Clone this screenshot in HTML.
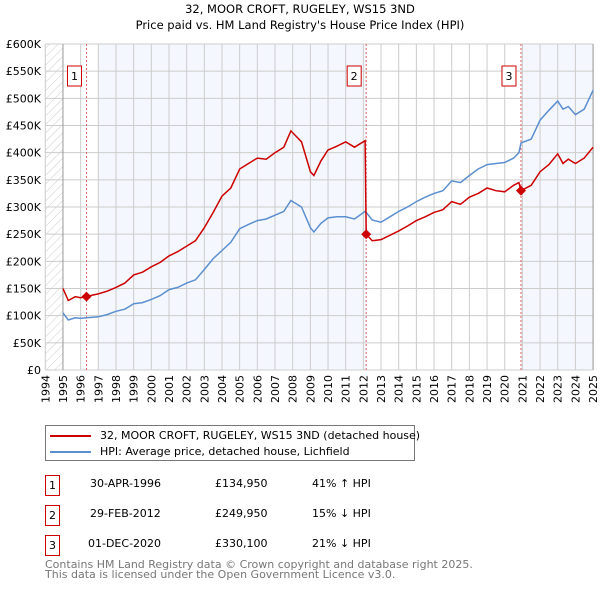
<!DOCTYPE html>
<html><head><meta charset="utf-8"><style>
body{margin:0;background:#fff;font-family:"Liberation Sans","DejaVu Sans",sans-serif;}
#wrap{position:relative;width:600px;height:590px;overflow:hidden;}
svg text{font-family:"DejaVu Sans","Liberation Sans",sans-serif;}
.tb div{white-space:nowrap;}
</style></head><body><div id="wrap">
<svg id="chart" width="600" height="590"></svg>
</div>
<script>
const dates=[1995.0,1995.3,1995.7,1996.0,1996.33,1996.7,1997.0,1997.5,1998.0,1998.5,1999.0,1999.5,2000.0,2000.5,2001.0,2001.5,2002.0,2002.5,2003.0,2003.5,2004.0,2004.5,2005.0,2005.5,2006.0,2006.5,2007.0,2007.5,2007.9,2008.5,2009.0,2009.2,2009.6,2010.0,2010.5,2011.0,2011.5,2012.1,2012.16,2012.5,2013.0,2013.5,2014.0,2014.5,2015.0,2015.5,2016.0,2016.5,2017.0,2017.5,2018.0,2018.5,2019.0,2019.5,2020.0,2020.5,2020.8,2020.92,2021.5,2022.0,2022.5,2023.0,2023.3,2023.6,2024.0,2024.5,2025.0];
const hpi=[105,92,96,95,96,97,98,102,108,112,122,124,130,137,148,152,160,166,185,205,220,235,260,268,275,278,285,292,312,300,262,254,270,280,282,282,278,292,290,276,272,282,292,300,310,318,325,330,348,345,358,370,378,380,382,390,400,418,425,460,478,495,480,485,470,480,515];
const paid=[150,128,135,133,135,138,140,145,152,160,175,180,190,198,210,218,228,238,262,290,320,335,370,380,390,388,400,410,440,420,365,358,385,405,412,420,410,422,250,238,240,248,256,265,275,282,290,295,310,305,318,325,335,330,328,340,345,330,340,365,378,398,380,388,380,390,410];
const yTicks=[0,50,100,150,200,250,300,350,400,450,500,550,600];
const years=[];for(let y=1994;y<=2025;y++)years.push(y);
const sales=[[1996.33,134.95,'1'],[2012.16,249.95,'2'],[2020.92,330.1,'3']];
const X0=45.3,PX=17.67,Y0=370,PY=0.5433;
const xs=d=>X0+(d-1994)*PX, ys=v=>Y0-v*PY;
const NS='http://www.w3.org/2000/svg';const svg=document.getElementById('chart');
function el(t,a,p){const e=document.createElementNS(NS,t);for(const k in a)e.setAttribute(k,a[k]);(p||svg).appendChild(e);return e;}
function tx(s,a){const e=el('text',a);e.textContent=s;return e;}
let t=tx('32, MOOR CROFT, RUGELEY, WS15 3ND',{x:300,y:13,'text-anchor':'middle','font-size':11.5,fill:'#000'});

t=tx("Price paid vs. HM Land Registry's House Price Index (HPI)",{x:300,y:29,'text-anchor':'middle','font-size':11.5,fill:'#000'});

const defs=el('defs',{});const pat=el('pattern',{id:'hatch',width:6,height:6,patternUnits:'userSpaceOnUse',patternTransform:'rotate(45)'},defs);
el('line',{x1:0,y1:0,x2:0,y2:6,stroke:'#ccc','stroke-width':1},pat);
let r=el('rect',{x:xs(1994),y:ys(600),width:xs(1995)-xs(1994),height:600*PY,fill:'url(#hatch)'});

r=el('rect',{x:xs(1997),y:ys(600),width:xs(2012.16)-xs(1997),height:600*PY,fill:'#f4f7fd'});

r=el('rect',{x:xs(2020.92),y:ys(600),width:xs(2025)-xs(2020.92),height:600*PY,fill:'#f4f7fd'});

years.forEach(y=>{const l=el('line',{x1:xs(y),x2:xs(y),y1:ys(600),y2:ys(0),stroke:'#ccc','stroke-width':1});

const lb=tx(String(y),{x:0,y:0,transform:`translate(${xs(y)+4},${ys(0)+5}) rotate(-90)`,'text-anchor':'end','font-size':11,fill:'#000'});
});
yTicks.forEach(v=>{const l=el('line',{x1:xs(1994),x2:xs(2025),y1:ys(v),y2:ys(v),stroke:'#ccc','stroke-width':1});

const lb=tx(v===0?'£0':'£'+v+'K',{x:41,y:ys(v)+4,'text-anchor':'end','font-size':11,fill:'#000'});
});
let ax=el('line',{x1:xs(1995),x2:xs(1995),y1:ys(600),y2:ys(0),stroke:'#999'});
ax=el('line',{x1:xs(2025),x2:xs(2025),y1:ys(600),y2:ys(0),stroke:'#999'});
sales.forEach(s=>{const l=el('line',{x1:xs(s[0]),x2:xs(s[0]),y1:ys(600),y2:ys(0),stroke:'#e06060','stroke-dasharray':'2,2','stroke-width':1});
});
const pts=a=>a.map((v,i)=>xs(dates[i]).toFixed(1)+','+ys(v).toFixed(1)).join(' ');
let p=el('polyline',{points:pts(hpi),fill:'none',stroke:'#5b8fd0','stroke-width':1.5});

p=el('polyline',{points:pts(paid),fill:'none',stroke:'#cc0000','stroke-width':1.5});

sales.forEach(s=>{const cx=xs(s[0]),cy=ys(s[1]);
const d=el('polygon',{points:`${cx},${cy-5} ${cx+5},${cy} ${cx},${cy+5} ${cx-5},${cy}`,fill:'#cc0000'});

const b=el('rect',{x:cx-19,y:66,width:14,height:20,fill:'#fff',stroke:'#cc0000'});

const lt=tx(s[2],{x:cx-12,y:80,'text-anchor':'middle','font-size':11,fill:'#000'});
});
</script>
<div style="position:absolute;left:45px;top:425px;width:370px;height:36px;border:1px solid #777;box-sizing:border-box;font-size:11px;font-family:'DejaVu Sans','Liberation Sans',sans-serif;">
<div style="position:absolute;left:4px;top:3px;white-space:nowrap;"><span style="display:inline-block;width:41px;height:2px;background:#cc0000;vertical-align:middle;margin-right:9px"></span>32, MOOR CROFT, RUGELEY, WS15 3ND (detached house)</div>
<div style="position:absolute;left:4px;top:19px;white-space:nowrap;"><span style="display:inline-block;width:41px;height:2px;background:#5b8fd0;vertical-align:middle;margin-right:9px"></span>HPI: Average price, detached house, Lichfield</div>
</div>
<div class="tb" style="position:absolute;left:0;top:0;font-size:11px;font-family:'DejaVu Sans','Liberation Sans',sans-serif;">
<div>
<div style="position:absolute;left:45px;top:475px;width:15px;height:21px;border:1px solid #cc0000;box-sizing:border-box;text-align:center;line-height:19px">1</div>
<div style="position:absolute;left:90px;top:477px;">30-APR-1996</div><div style="position:absolute;left:215px;top:477px;">£134,950</div><div style="position:absolute;left:312px;top:477px;">41% ↑ HPI</div></div>
<div>
<div style="position:absolute;left:45px;top:505px;width:15px;height:21px;border:1px solid #cc0000;box-sizing:border-box;text-align:center;line-height:19px">2</div>
<div style="position:absolute;left:90px;top:507px;">29-FEB-2012</div><div style="position:absolute;left:215px;top:507px;">£249,950</div><div style="position:absolute;left:312px;top:507px;">15% ↓ HPI</div></div>
<div>
<div style="position:absolute;left:45px;top:535px;width:15px;height:21px;border:1px solid #cc0000;box-sizing:border-box;text-align:center;line-height:19px">3</div>
<div style="position:absolute;left:88px;top:537px;">01-DEC-2020</div><div style="position:absolute;left:215px;top:537px;">£330,100</div><div style="position:absolute;left:312px;top:537px;">21% ↓ HPI</div></div>
</div>
<div style="position:absolute;left:45px;top:560px;font-size:11px;line-height:10px;color:#777;font-family:'DejaVu Sans','Liberation Sans',sans-serif;white-space:nowrap">Contains HM Land Registry data © Crown copyright and database right 2025.<br>This data is licensed under the Open Government Licence v3.0.</div>
</body></html>
